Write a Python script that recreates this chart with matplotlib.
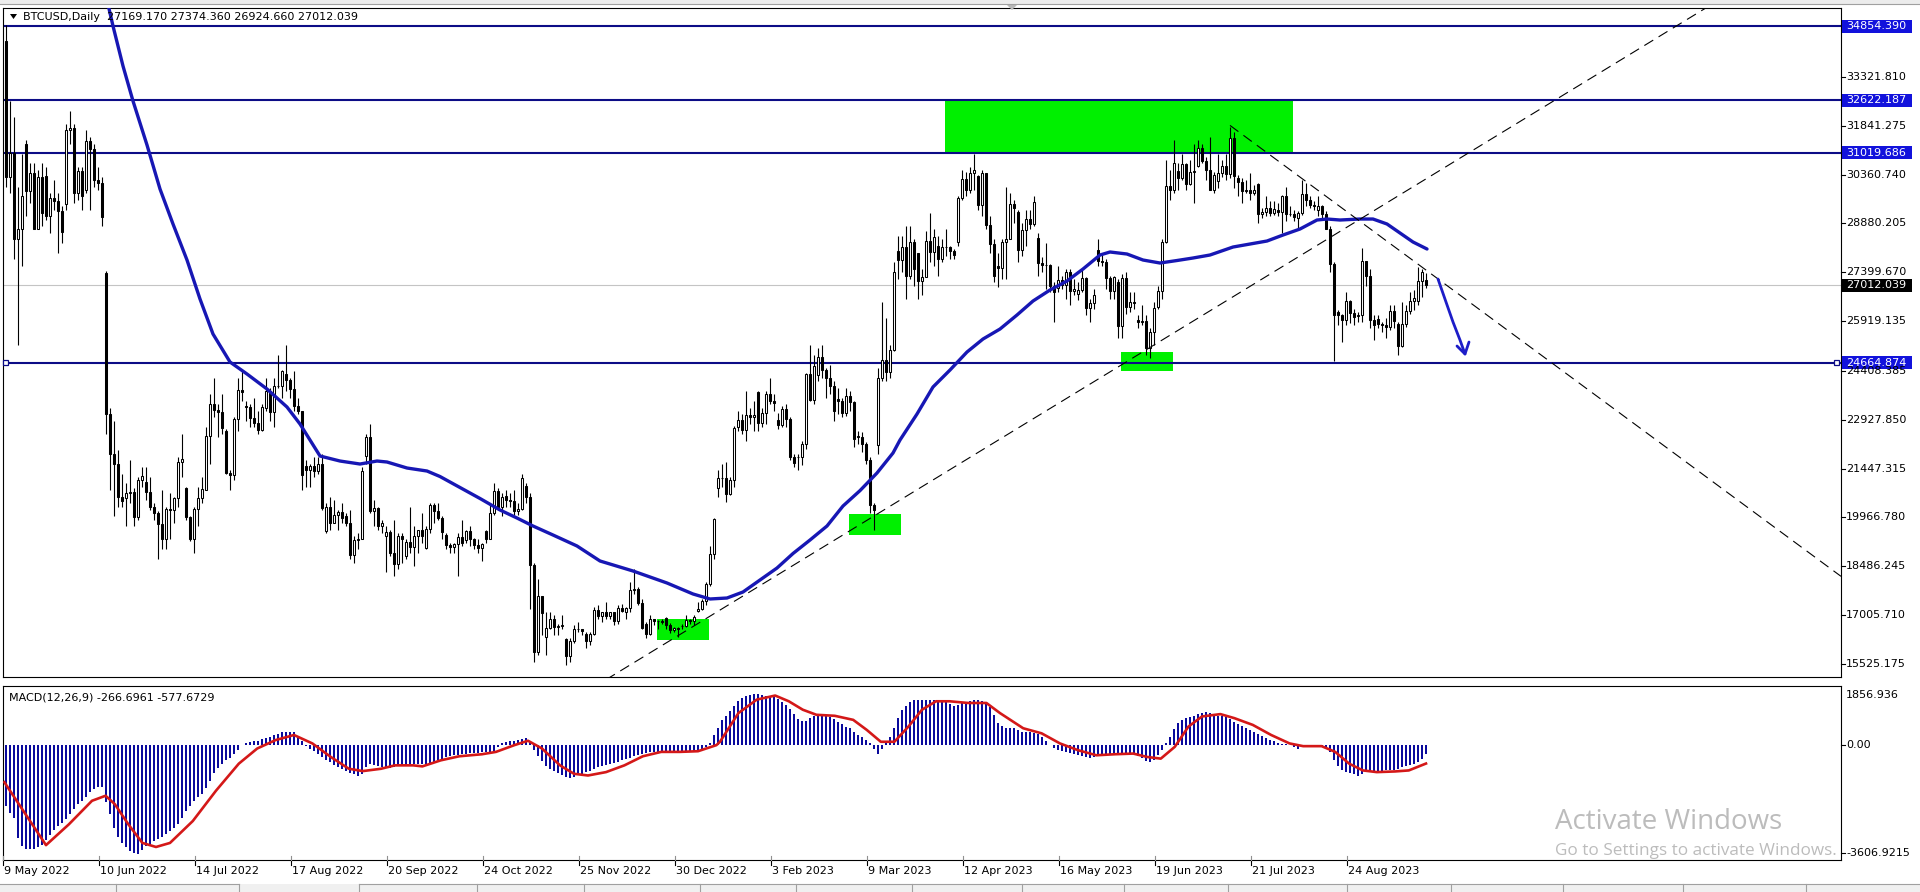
import matplotlib
matplotlib.use("Agg")
import matplotlib.pyplot as plt
from matplotlib.patches import Rectangle, Polygon

plt.rcParams['font.family'] = ['DejaVu Sans']
plt.rcParams['lines.scale_dashes'] = False

# ---------------- data ----------------
opens = [
    34400, 30300, 31020, 28400, 28700, 31300, 29860, 30420, 28720, 30300,
    30320, 29100, 29650, 29560, 29270, 29470, 31730, 31790, 29800, 30470,
    29910, 31370, 31130, 30200, 30110, 27380, 23100, 21900, 21600, 20600,
    20550, 20700, 20730, 19990, 21100, 21030, 20740, 20280, 20100, 19780,
    19300, 20230, 20190, 20550, 21640, 20860, 19970, 19330, 20210, 20570,
    20800, 22430, 23400, 23230, 23160, 22580, 21310, 21250, 22950, 23840,
    23340, 23310, 22980, 22820, 22620, 23280, 23800, 23160, 23950, 23940,
    24310, 24130, 23850, 23340, 23190, 21520, 21400, 21530, 21370, 21590,
    19550, 20280, 19810, 20050, 20130, 20000, 19800, 18840, 19290, 19320,
    21830, 22400, 20170, 20240, 19700, 19420, 19540, 18880, 18550, 19410,
    18800, 19230, 19080, 19410, 19590, 19050, 19620, 20340, 20160, 19960,
    19450, 19130, 19060, 19160, 19380, 19270, 19550, 19330, 19120, 19040,
    19570, 19330, 20090, 20770, 20290, 20630, 20490, 20480, 20150, 20210,
    20930, 20590, 18540, 15880, 17590, 16330, 16620, 16900, 16660, 16690,
    16280, 15780, 16230, 16600, 16600, 16440, 16220, 16440, 17170, 16970,
    17110, 16970, 17090, 16840, 17220, 17090, 17210, 17780, 17800, 17360,
    16740, 16440, 16900, 16820, 16830, 16920, 16710, 16550, 16630, 16670,
    16680, 16850, 16830, 17120, 17180, 17440, 17940, 18850, 20870, 21170,
    21160, 20690, 21090, 22710, 22920, 22620, 23060, 23010, 23770, 22840,
    23140, 23720, 23490, 22930, 22760, 23260, 22960, 21800, 21790, 21790,
    22200, 24330, 23520, 24300, 24840, 24440, 24190, 23950, 23550, 23490,
    23150, 23650, 23480, 22430, 22410, 22200, 21710, 20360, 22160, 24200,
    24750, 24380, 25060, 28040, 27770, 28180, 27300, 28330, 27990, 27140,
    27270, 28350, 28030, 28200, 27790, 28170, 28170, 28040, 28330, 29650,
    30240, 29890, 30400, 30320, 29450, 30400, 28820, 28250, 27590, 27520,
    28310, 28420, 29480, 29230, 28080, 28680, 29030, 28850, 28450, 27690,
    27630, 27630, 26990, 26930, 27170, 27030, 27400, 26830, 26750, 26850,
    27230, 26330, 26480, 28090, 27750, 27700, 27220, 26820, 27120, 25760,
    27240, 26350, 26500, 25940, 25900, 25920, 25120, 25580, 26340, 26840,
    28310, 30010, 29890, 30480, 30270, 30690, 30080, 30450, 30620, 31160,
    30770, 30510, 29900, 30170, 30410, 30620, 30390, 31480, 30250, 30140,
    29860, 29910, 29800, 30080, 29180, 29230, 29350, 29210, 29280, 29230,
    29710, 29180, 29180, 29050, 29200, 29770, 29580, 29430, 29280, 29410,
    29170, 28700, 27650, 26190, 26120, 25960, 26530, 26160, 26090, 26110,
    27730, 27300, 25940, 25970, 25830, 25790, 25750, 26240, 25840, 25160,
    25840, 26230, 26540, 26530, 27150, 27169.17]

highs = [
    34900, 32600, 32100, 30000, 31000, 31400, 30700, 30700, 30500, 30700,
    30600, 29800, 30200, 29800, 29400, 31900, 32300, 31900, 30600, 30600,
    31700, 31500, 31300, 30600, 30300, 27450, 23300, 22900, 22000, 21300,
    21000, 21700, 20860, 21200, 21500, 21500, 21200, 20400, 20150, 20800,
    20300, 20700, 20600, 21800, 22500, 20900, 20000, 20300, 20900, 21200,
    22700, 23700, 24200, 23400, 23700, 22650, 21400, 23000, 24200, 24400,
    23500, 23400, 23600, 23200, 23400, 24200, 23900, 24200, 24900, 24450,
    25200, 24200, 24400, 23600, 23200, 21700, 21600, 21800, 21800, 21900,
    20400, 20600, 20500, 20200, 20400, 20100, 20200, 19400, 19500, 21500,
    22500, 22800, 20500, 20300, 19900, 19700, 19600, 19900, 19500, 19500,
    19300, 20300, 19700, 19600, 20100, 19700, 20400, 20400, 20400, 20000,
    19500, 19200, 19200, 19500, 19900, 19600, 19700, 19350, 19300, 19200,
    19600, 20400, 21000, 20850, 20700, 20800, 20700, 20800, 20400, 21300,
    21000, 20700, 18600, 18100, 17600, 17100, 17100, 17000, 16750, 17000,
    16300, 16300, 16700, 16800, 16600, 16500, 16500, 17250, 17300, 17100,
    17400, 17100, 17100, 17300, 17350, 17250, 18000, 18400, 17850, 17500,
    16800, 17000, 16900, 16850, 16900, 16950, 16780, 16650, 16650, 16750,
    17000, 16880, 17000, 17400, 17500, 18000, 19100, 19950, 21400, 21600,
    21650, 21200, 22750, 23200, 23100, 23800, 23300, 23500, 23800, 23300,
    23800, 24200, 23700, 23150, 23350, 23400, 23000, 21900, 21900, 22300,
    24350, 25200, 24900, 25100, 25200, 24500, 24600, 24100, 23900, 23600,
    23900, 23800, 23500, 22600, 22550, 22250, 21800, 20400, 24500, 26500,
    26000, 25200, 27700, 28500, 28500, 28800, 28800, 28400, 28000, 27500,
    28650, 29200, 28700, 28500, 28400, 28700, 28200, 28100, 29700, 30500,
    30450, 30600, 31000, 30350, 30500, 30400, 29100, 28400, 28000, 28400,
    30000, 29800, 29600, 29300, 28900, 29300, 29300, 29700, 28600, 27850,
    28300, 27650, 27100, 27600, 27300, 27500, 27500, 27200, 27100, 27500,
    27250, 26600, 26900, 28400, 28000, 27800, 27300, 27300, 27200, 27350,
    27400, 26800, 26800, 26100, 26400, 26100, 25700, 26500, 27000, 28400,
    30800, 30500, 31400, 30700, 31000, 30700, 30800, 31300, 31400, 31300,
    30900, 31500, 30450, 31000, 30800, 30980, 31800, 31650, 30350, 30250,
    30200, 30400, 30050, 30100, 29350, 29700, 29550, 29550, 29500, 29750,
    30000, 29400, 29300, 29250, 30200, 30100, 29700, 29550, 29700, 29450,
    29250, 28800, 27700, 26250, 26150, 26800, 26550, 26300, 26200, 28150,
    27750, 27500, 26100, 26100, 25900, 26000, 26400, 26400, 25900, 26500,
    26400, 26800, 26850, 27550, 27500, 27374.36]

lows = [
    30000, 29800, 27800, 25200, 27600, 29100, 29500, 28700, 28700, 28800,
    29000, 28600, 29300, 28000, 28300, 29300, 31300, 29500, 29600, 29300,
    29800, 29300, 30000, 29900, 28800, 22500, 20800, 20000, 20300, 20300,
    19700, 20400, 19700, 19900, 20900, 20500, 20200, 19900, 18700, 19000,
    19000, 19300, 19800, 20300, 21200, 19900, 19250, 18900, 19700, 20400,
    20800, 21600, 23000, 22400, 22500, 21300, 20800, 21100, 22600, 23500,
    22900, 22700, 22700, 22500, 22600, 23200, 22900, 22700, 23900, 23600,
    23800, 23600, 23200, 23100, 20800, 20900, 20900, 21200, 21300, 20200,
    19500, 19600, 19800, 19600, 19800, 19700, 18700, 18600, 19000, 19300,
    21600, 20100, 19700, 19600, 19500, 18300, 18800, 18200, 18400, 18600,
    18700, 18900, 18500, 18900, 19200, 19000, 19500, 19800, 19900, 19300,
    19000, 18900, 18900, 18200, 19100, 19200, 19100, 19000, 18900, 18650,
    19200, 19300, 20050, 20200, 20000, 20300, 20300, 20050, 20050, 20200,
    20400, 17200, 15600, 15800, 16400, 15800, 16600, 16400, 16400, 16600,
    15500, 15600, 16150, 16500, 16400, 16000, 16100, 16400, 16900, 16800,
    16900, 16900, 16700, 16750, 17100, 16900, 17100, 17650, 17300, 16600,
    16300, 16400, 16700, 16600, 16750, 16600, 16470, 16500, 16350, 16600,
    16650, 16750, 16700, 17100, 17150, 17300, 17900, 18700, 20600, 20900,
    20450, 20650, 20900, 22600, 22500, 22300, 22800, 22600, 22600, 22700,
    22800, 23400, 23200, 22650, 22700, 22700, 21700, 21500, 21400, 21550,
    22050, 23500, 23400, 24100, 24200, 23600, 23700, 22900, 23100, 23000,
    23050, 23200, 22100, 22200, 21950, 21600, 20100, 19600, 21900, 24100,
    24100, 24200, 25000, 27200, 27400, 26600, 27200, 27000, 26600, 26700,
    27250, 27700, 27600, 27300, 27700, 27900, 27800, 27800, 28200, 29600,
    29700, 29800, 29900, 29300, 29100, 28700, 28000, 27100, 26950, 27200,
    27200, 28400, 28900, 27700, 27900, 28200, 28700, 28800, 27300, 27400,
    26900, 26800, 25900, 26800, 26900, 26600, 26400, 26700, 26550, 26800,
    26100, 25900, 26300, 27600, 27600, 26900, 26600, 26600, 25400, 25400,
    26150, 26200, 26300, 25700, 25800, 24900, 24800, 25200, 26300, 26600,
    28300, 29600, 29800, 29900, 30200, 29900, 30050, 29500, 30600, 30700,
    30200, 29900, 29800, 29950, 30300, 30200, 30250, 29950, 29700, 29500,
    29800, 29600, 29750, 28900, 29050, 29100, 29100, 29150, 29100, 28600,
    28950, 29100, 28950, 28700, 29150, 29400, 29350, 29300, 29100, 29050,
    28700, 27400, 24700, 25800, 25300, 25800, 25850, 25800, 25900, 25900,
    27000, 25700, 25350, 25700, 25600, 25400, 25650, 25700, 24900, 25150,
    25750, 26150, 26250, 26400, 26650, 26924.66]

closes = [
    30300, 31020, 28400, 28700, 29700, 29860, 30420, 28720, 30300, 29200,
    29100, 29650, 29560, 29270, 28630, 31730, 31790, 29800, 30470, 29700,
    31370, 31130, 30200, 30110, 29080, 23100, 21900, 21600, 20600, 20470,
    20700, 20730, 19990, 21100, 21230, 20740, 20280, 20100, 19780, 19300,
    20230, 20190, 20550, 21640, 21730, 19970, 19330, 20210, 20570, 20840,
    22430, 23400, 23230, 23160, 22680, 21310, 21250, 22950, 23840, 23780,
    23310, 22980, 22820, 22620, 23310, 23800, 23160, 23950, 23940, 24400,
    24130, 23850, 23340, 23190, 21250, 21400, 21530, 21370, 21590, 20260,
    20280, 19810, 20050, 20130, 19950, 19800, 18840, 19290, 19320, 21380,
    22400, 20170, 20240, 19700, 19800, 19540, 18880, 18550, 19410, 19300,
    19230, 19080, 19410, 19590, 19420, 19620, 20340, 20160, 19960, 19530,
    19130, 19060, 19160, 19380, 19190, 19550, 19330, 19120, 19040, 19160,
    19330, 20090, 20770, 20290, 20600, 20490, 20480, 20150, 20210, 21150,
    20590, 18540, 15880, 17590, 17070, 16620, 16900, 16660, 16690, 16700,
    15780, 16230, 16600, 16600, 16520, 16220, 16440, 17170, 16970, 17090,
    16970, 17090, 16840, 17220, 17130, 17210, 17780, 17800, 17360, 16630,
    16440, 16900, 16820, 16830, 16790, 16710, 16550, 16630, 16600, 16680,
    16850, 16830, 16950, 17180, 17440, 17940, 18850, 19930, 21170, 21160,
    20690, 21090, 22680, 22920, 22620, 23060, 23010, 23080, 22840, 23140,
    23720, 23490, 23430, 22760, 23260, 22960, 21800, 21630, 21790, 22200,
    24330, 23520, 24570, 24840, 24440, 24190, 23950, 23200, 23490, 23150,
    23650, 23480, 22360, 22410, 22200, 21710, 20360, 20190, 24200, 24750,
    24380, 25060, 27420, 27770, 28180, 27300, 28330, 27490, 27140, 27270,
    28350, 28030, 28480, 27790, 28170, 28170, 28040, 27920, 29650, 30240,
    29890, 30400, 30490, 29450, 30400, 28820, 28250, 27280, 27520, 28310,
    28420, 29480, 29340, 28080, 28680, 29030, 28850, 29530, 27690, 27630,
    27630, 26990, 26800, 27170, 27030, 27400, 26830, 26890, 26850, 27230,
    26330, 26480, 26720, 27750, 27700, 27220, 26820, 27250, 25760, 27240,
    26350, 26500, 26480, 25900, 25920, 25120, 25580, 26330, 26840, 28310,
    30010, 29890, 30700, 30270, 30690, 30080, 30450, 30470, 31160, 30770,
    30510, 29900, 30350, 30410, 30620, 30390, 31480, 30310, 30140, 29860,
    29910, 29800, 29910, 29180, 29230, 29350, 29210, 29320, 29230, 29710,
    29180, 29180, 29070, 29200, 29770, 29580, 29430, 29400, 29410, 29170,
    28700, 27650, 26100, 26120, 25960, 26530, 26160, 26050, 26110, 27730,
    27300, 25940, 25800, 25830, 25790, 25750, 26240, 25910, 25160, 25840,
    26230, 26540, 26610, 27150, 27400, 27012.039]

# blue moving average, read as (bar index, price) points
ma_idx = [25.25, 26.75, 29.25, 31.75, 35.25, 38.5, 41.75, 45.25, 48.5, 51.75,
          56, 60.25, 65.25, 70.25, 73.5, 78.5, 83.5, 88.5, 92.75, 95.25,
          100.25, 105.25, 108.5, 113.5, 118.5, 123.5, 127.75, 131.75, 136.75, 142.75,
          148.5, 156.75, 165.25, 171.75, 176, 180.25, 184.25, 188.5, 192.75, 196.75,
          201, 205.25, 209.25, 213.5, 217.75, 221.75, 223.5, 227.75, 231.75, 236,
          240.25, 244.25, 248.5, 252.75, 256.75, 261, 265.25, 269.25, 273.5, 276,
          280.25, 284.25, 288.5, 292.75, 296.75, 301, 306.75, 311, 315.25, 319.25,
          323.5, 327.75, 330.25, 333.5, 338.5, 341.75, 345.25, 348.5, 351.75, 355.25]
ma_val = [35656, 34868, 33655, 32594, 31260, 29926, 28865, 27773, 26591, 25530,
          24681, 24317, 23862, 23316, 22801, 21831, 21679, 21588, 21679, 21649,
          21467, 21376, 21209, 20876, 20543, 20194, 19951, 19709, 19436, 19103,
          18648, 18345, 17981, 17648, 17496, 17526, 17708, 18072, 18435, 18875,
          19284, 19709, 20315, 20782, 21316, 21922, 22316, 23104, 23923, 24438,
          24984, 25378, 25681, 26106, 26530, 26864, 27137, 27500, 27925, 28016,
          27955, 27773, 27682, 27758, 27834, 27925, 28167, 28258, 28349, 28531,
          28713, 28986, 29016, 28986, 29016, 29016, 28865, 28592, 28319, 28107]

# MACD main (histogram), one value per bar
macd_hist = [
    -1906, -2118, -2277, -2912, -3177, -3262, -3262, -3262, -3209, -3124,
    -2965, -2827, -2680, -2541, -2436, -2330, -2150, -2012, -1853, -1747,
    -1620, -1483, -1377, -1303, -1303, -1800, -2171, -2594, -2891, -3071,
    -3209, -3315, -3389, -3421, -3283, -3177, -3103, -3018, -2944, -2891,
    -2806, -2700, -2616, -2467, -2277, -2065, -1906, -1769, -1641, -1536,
    -1345, -1112, -879, -710, -582, -477, -413, -286, -138, -11,
    53, 85, 116, 138, 180, 212, 265, 307, 360, 402,
    424, 424, 402, 286, 127, -32, -127, -191, -286, -371,
    -455, -540, -614, -678, -752, -826, -879, -921, -964, -900,
    -700, -604, -635, -667, -688, -710, -710, -688, -667, -646,
    -625, -604, -582, -582, -582, -582, -561, -530, -477, -424,
    -371, -350, -318, -307, -286, -265, -254, -244, -233, -222,
    -212, -201, -180, -74, 53, 95, 116, 138, 159, 191,
    212, 127, -159, -350, -498, -646, -752, -826, -890, -953,
    -995, -1027, -985, -943, -900, -858, -805, -741, -699, -667,
    -625, -582, -561, -530, -477, -434, -392, -350, -307, -275,
    -244, -222, -212, -201, -191, -191, -180, -180, -191, -191,
    -180, -180, -169, -159, -116, -53, 74, 318, 530, 794,
    921, 1080, 1218, 1387, 1472, 1535, 1589, 1610, 1599, 1567,
    1557, 1535, 1504, 1451, 1366, 1271, 1133, 974, 815, 773,
    752, 858, 921, 953, 942, 921, 879, 826, 731, 657,
    582, 530, 424, 318, 244, 159, 53, -106, -286, -106,
    106, 244, 530, 847, 1091, 1239, 1345, 1408, 1430, 1408,
    1419, 1430, 1430, 1408, 1366, 1345, 1281, 1218, 1260, 1313,
    1366, 1398, 1419, 1430, 1387, 1345, 1197, 953, 710, 604,
    540, 540, 551, 477, 424, 402, 424, 392, 339, 244,
    116, -11, -95, -148, -191, -222, -254, -286, -318, -350,
    -381, -392, -360, -307, -275, -265, -265, -254, -254, -265,
    -265, -254, -286, -339, -402, -508, -530, -477, -318, -138,
    74, 265, 508, 688, 794, 858, 890, 911, 964, 1006,
    1027, 1017, 964, 921, 900, 868, 815, 741, 678, 604,
    530, 466, 413, 360, 275, 212, 169, 116, 74, 42,
    21, 0, -53, -106, -32, -11, -11, -21, -32, -21,
    -53, -201, -455, -667, -773, -837, -879, -921, -974, -911,
    -858, -847, -847, -826, -805, -794, -794, -773, -741, -699,
    -657, -625, -582, -519, -434, -267]

# MACD signal line, read as (bar index, value) points
sig_idx = [-0.4, 10, 15.7, 21.5, 24.9, 27.2, 30.6, 34.1, 37.5, 41,
           46.7, 52.5, 58.2, 62.8, 67.4, 72, 76.6, 81.2, 85.7, 89.2,
           93.8, 97.2, 101.8, 104.1, 108.7, 113.3, 119, 122.5, 127.1, 130.5,
           134, 138.5, 142, 145.5, 150, 154.6, 159.2, 163.8, 168.4, 173,
           177.6, 178.5, 183.1, 187.7, 192.3, 195.7, 199.2, 202.6, 207.2, 211.8,
           215.2, 218.7, 222.1, 225.6, 229, 232.5, 235.9, 240.5, 245.1, 248.5,
           254.3, 258.9, 263.5, 268, 272.6, 277.2, 281.8, 285.3, 288.7, 292.2,
           295.6, 299, 303.6, 307.1, 311.7, 316.3, 320.9, 324.3, 328.9, 332.3,
           335.8, 339.2, 342.7, 347.3, 350.7, 355]
sig_val = [-1165, -3140, -2489, -1747, -1589, -1853, -2489, -3071, -3198, -3071,
           -2383, -1430, -582, -106, 159, 318, 53, -371, -741, -815,
           -741, -635, -635, -667, -477, -350, -286, -212, 0, 138,
           -106, -635, -900, -953, -847, -635, -350, -212, -212, -191,
           0, 106, 1006, 1430, 1557, 1377, 1112, 953, 921, 794,
           477, 106, 106, 582, 1112, 1377, 1377, 1324, 1324, 1006,
           530, 371, 53, -159, -318, -286, -265, -371, -424, -53,
           582, 900, 974, 847, 635, 318, 53, -32, -32, -212,
           -582, -794, -847, -826, -794, -578]

hline_levels = [34854.390, 32622.187, 31019.686, 24664.874]
last_price = 27012.039
price_ticks = [33321.810, 31841.275, 30360.740, 28880.205, 27399.670, 25919.135,
               24408.385, 22927.850, 21447.315, 19966.780, 18486.245, 17005.710, 15525.175]
date_labels = ["9 May 2022", "10 Jun 2022", "14 Jul 2022", "17 Aug 2022", "20 Sep 2022",
               "24 Oct 2022", "25 Nov 2022", "30 Dec 2022", "3 Feb 2023", "9 Mar 2023",
               "12 Apr 2023", "16 May 2023", "19 Jun 2023", "21 Jul 2023", "24 Aug 2023"]
date_label_idx = [0, 24, 48, 72, 96, 120, 144, 168, 192, 216, 240, 264, 288, 312, 336]

# green zones: (bar start, bar end, price low, price high)
zones = [(234.75, 321.75, 31019.686, 32622.187),
         (278.75, 291.75, 24408, 24984),
         (210.75, 223.75, 19436, 20073),
         (162.75, 175.75, 16253, 16890)]
# dashed trend lines: (bar, price) anchor pairs
trend_up = [(150.0, 15050), (376.0, 31788)]
trend_dn = [(306.0, 31854), (458.75, 18183)]
arrow_idx = [358, 360, 361.75, 363.5, 364.75]
arrow_val = [27197, 26500, 25894, 25348, 24924]

# ---------------- figure ----------------
W, H, DPI = 1920, 892, 100
fig = plt.figure(figsize=(W / DPI, H / DPI), dpi=DPI, facecolor='white')


def add_px_axes(l, t, r, b, **kw):
    return fig.add_axes([l / W, 1 - b / H, (r - l) / W, (b - t) / H], **kw)


X0, X1 = -0.75, 458.75
P_TOP, P_BOT = 35413.7, 15131.0
M_TOP, M_BOT = 1856.936, -3606.9215
MAIN_T, MAIN_B = 8, 677
MACD_T, MACD_B = 686, 860

ax = add_px_axes(3, MAIN_T, 1841, MAIN_B)
ax2 = add_px_axes(3, MACD_T, 1841, MACD_B)
for a in (ax, ax2):
    a.set_xlim(X0, X1)
    a.set_xticks([])
    a.set_yticks([])
    for s in a.spines.values():
        s.set_color('black')
        s.set_linewidth(0.8)
ax.set_ylim(P_BOT, P_TOP)
ax2.set_ylim(M_BOT, M_TOP)

NAVY = '#0c0c86'
LBL_BLUE = '#1212dc'

# green zones
for x0, x1, lo, hi in zones:
    ax.add_patch(Rectangle((x0, lo), x1 - x0, hi - lo, facecolor='#00f000',
                           edgecolor='none', zorder=1))
# current price line
ax.axhline(last_price, color='#c4c4c4', lw=0.8, zorder=1.5)
# horizontal levels
for v in hline_levels:
    ax.axhline(v, color=NAVY, lw=1.5, zorder=2)

# candles
n = min(len(opens), len(highs), len(lows), len(closes))
idx = list(range(n))
ax.vlines(idx, lows[:n], highs[:n], color='black', lw=0.8, zorder=3)
up_x, up_b, up_h, dn_x, dn_b, dn_h = [], [], [], [], [], []
for i in idx:
    o, c = opens[i], closes[i]
    if c >= o:
        up_x.append(i); up_b.append(o); up_h.append(max(c - o, 1))
    else:
        dn_x.append(i); dn_b.append(c); dn_h.append(o - c)
ax.bar(up_x, up_h, bottom=up_b, width=0.5, facecolor='white', edgecolor='black',
       linewidth=0.75, zorder=3.5)
ax.bar(dn_x, dn_h, bottom=dn_b, width=0.5, facecolor='black', edgecolor='black',
       linewidth=0.75, zorder=3.5)

# moving average
ax.plot(ma_idx, ma_val, color='#1717b4', lw=2.4, zorder=4,
        solid_capstyle='round', solid_joinstyle='round')

# dashed trend lines
(xa, ya), (xb, yb) = trend_up
slope = (yb - ya) / (xb - xa)
ax.plot([xa, 440], [ya, ya + slope * (440 - xa)], color='black', lw=0.8,
        dashes=(7.5, 4.5), zorder=5)
(xa, ya), (xb, yb) = trend_dn
ax.plot([xa, xb], [ya, yb], color='black', lw=0.8, dashes=(7.5, 4.5), zorder=5)

# blue arrow
ax.plot(arrow_idx, arrow_val, color='#1d1dc8', lw=2.0, zorder=6,
        solid_capstyle='round', solid_joinstyle='round')
ax.plot([362.75, arrow_idx[-1], 365.75], [25166, arrow_val[-1], 25287],
        color='#1d1dc8', lw=2.0, zorder=6, solid_capstyle='round')

# MACD
ax2.bar(range(len(macd_hist)), macd_hist, width=0.72, color='#0a0a9c',
        linewidth=0, zorder=2)
ax2.plot(sig_idx, sig_val, color='#d41818', lw=1.9, zorder=3,
         solid_joinstyle='round')

# ---------------- overlay for texts (pixel coordinates) ----------------
ov = fig.add_axes([0, 0, 1, 1], zorder=10)
ov.set_xlim(0, W)
ov.set_ylim(H, 0)
ov.axis('off')
ov.patch.set_visible(False)

FS = 8


def y_price(v):
    return MAIN_T + (P_TOP - v) / (P_TOP - P_BOT) * (MAIN_B - MAIN_T)


def x_bar(i):
    return 3 + (i - X0) / (X1 - X0) * 1838


# top window strip
ov.add_patch(Rectangle((0, 0), W, 4, facecolor='#ececec', edgecolor='none'))
ov.plot([0, W], [4, 4], color='#a0a0a0', lw=0.8)
ov.add_patch(Polygon([(1006, 4), (1018, 4), (1012, 10)], closed=True,
                     facecolor='#b8b8b8', edgecolor='none'))

# title
ov.add_patch(Polygon([(10, 14), (17, 14), (13.5, 19)], closed=True,
                     facecolor='black', edgecolor='none'))
ov.text(23, 17, "BTCUSD,Daily  27169.170 27374.360 26924.660 27012.039",
        fontsize=FS, ha='left', va='center', color='black')

# price axis ticks and labels
for v in price_ticks:
    y = y_price(v)
    ov.plot([1841, 1845], [y, y], color='black', lw=0.8)
    ov.text(1846, y, f"{v:.3f}", fontsize=FS, ha='left', va='center', color='black')
for v in hline_levels:
    y = y_price(v)
    ov.add_patch(Rectangle((1842, y - 6.5), 70, 13, facecolor=LBL_BLUE,
                           edgecolor='none'))
    ov.text(1846, y, f"{v:.3f}", fontsize=FS, ha='left', va='center', color='white')
y = y_price(last_price)
ov.add_patch(Rectangle((1842, y - 6.5), 70, 13, facecolor='black', edgecolor='none'))
ov.text(1846, y, f"{last_price:.3f}", fontsize=FS, ha='left', va='center', color='white')

# selected-line anchor squares on the 24664 level
ys = y_price(24664.874)
for xs in (5, 1836):
    ov.add_patch(Rectangle((xs - 2.5, ys - 2.5), 5, 5, facecolor='white',
                           edgecolor=NAVY, lw=0.9))

# MACD labels
ov.text(9, 697, "MACD(12,26,9) -266.6961 -577.6729", fontsize=FS, ha='left',
        va='center', color='black')
ov.text(1846, 695, "1856.936", fontsize=FS, ha='left', va='center', color='black')
ov.plot([1841, 1845], [745, 745], color='black', lw=0.8)
ov.text(1846, 745, "0.00", fontsize=FS, ha='left', va='center', color='black')
ov.plot([1841, 1845], [853, 853], color='black', lw=0.8)
ov.text(1846, 853, "-3606.9215", fontsize=FS, ha='left', va='center', color='black')

# date axis
for lab, i in zip(date_labels, date_label_idx):
    xb = x_bar(i)
    ov.plot([xb - 3, xb - 3], [860, 865], color='black', lw=0.8)
    ov.plot([xb - 3, xb - 3], [856, 860], color='#909090', lw=0.8)
    ov.text(xb - 2, 871, lab, fontsize=FS, ha='left', va='center', color='black')

# bottom tab strip
ov.add_patch(Rectangle((0, 884), W, 8, facecolor='#f0f0f0', edgecolor='none'))
ov.plot([0, 239], [884, 884], color='#a0a0a0', lw=0.8)
ov.plot([359, W], [884, 884], color='#a0a0a0', lw=0.8)
for xs in [116, 239, 359, 477, 584, 700, 796, 912, 1022, 1124, 1228, 1347,
           1451, 1563, 1683, 1806]:
    ov.plot([xs, xs], [884, 892], color='#a0a0a0', lw=0.8)

# Windows activation watermark
ov.text(1555, 822, "Activate Windows", fontsize=20, ha='left', va='center',
        color='#bcbcbc', family=['Open Sans', 'DejaVu Sans'])
ov.text(1555, 851, "Go to Settings to activate Windows.", fontsize=12.3,
        ha='left', va='center', color='#bcbcbc', family=['Open Sans', 'DejaVu Sans'])

fig.savefig("out.png", dpi=DPI, facecolor='white')
